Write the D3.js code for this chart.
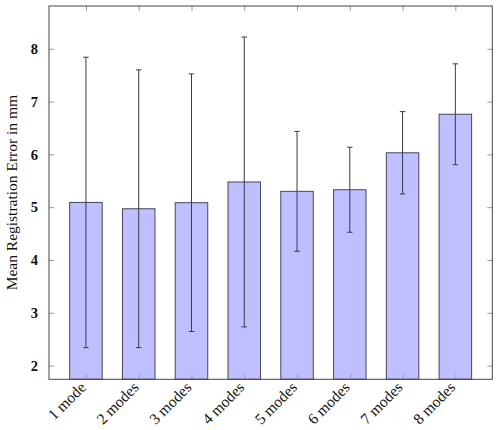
<!DOCTYPE html>
<html>
<head>
<meta charset="utf-8">
<script src="https://cdn.jsdelivr.net/npm/d3@7"></script>
<style>
  body { margin: 0; background: #fff; }
</style>
</head>
<body>
<div id="chart"></div>
<script>
// data
var categories = ["1 mode", "2 modes", "3 modes", "4 modes", "5 modes", "6 modes", "7 modes", "8 modes"];
var meanError = [5.09, 4.97, 5.085, 5.477, 5.30, 5.33, 6.03, 6.76];
var stdError = [2.75, 2.63, 2.44, 2.745, 1.135, 0.805, 0.78, 0.955];
var yTicks = [2, 3, 4, 5, 6, 7, 8];

var serif = "'Liberation Serif', 'DejaVu Serif', serif";

var svgWidth = 501;
var svgHeight = 430;

var margin = { top: 6, right: 9, bottom: 51, left: 49 };
var width = 492.3 - margin.left;
var height = 379.3 - margin.top;

var svg = d3.select("#chart")
  .append("svg")
  .attr("width", svgWidth)
  .attr("height", svgHeight);

var chartGroup = svg.append("g")
  .attr("transform", `translate(${margin.left}, ${margin.top})`);

var rows = categories.map(function(c, i) {
  return { name: c, idx: i + 1, mean: meanError[i], err: stdError[i] };
});

var xScale = d3.scaleLinear()
  .domain([0.3, 8.7])
  .range([0, width]);

var yScale = d3.scaleLinear()
  .domain([1.74, 8.81])
  .range([height, 0]);

var barWidth = 32.5;
var capHalf = 2.7;

// bars
chartGroup.selectAll(".bar")
  .data(rows)
  .enter()
  .append("rect")
  .attr("class", "bar")
  .attr("x", d => xScale(d.idx) - barWidth / 2)
  .attr("y", d => yScale(d.mean))
  .attr("width", barWidth)
  .attr("height", d => height - yScale(d.mean))
  .attr("fill", "#bfbfff")
  .attr("stroke", "#46465e")
  .attr("stroke-width", 1);

// error bars
var errGroup = chartGroup.selectAll(".err")
  .data(rows)
  .enter()
  .append("g")
  .attr("class", "err")
  .attr("stroke", "#3a3a48")
  .attr("stroke-width", 1);

errGroup.append("line")
  .attr("x1", d => xScale(d.idx))
  .attr("x2", d => xScale(d.idx))
  .attr("y1", d => yScale(d.mean - d.err))
  .attr("y2", d => yScale(d.mean + d.err));

errGroup.append("line")
  .attr("x1", d => xScale(d.idx) - capHalf)
  .attr("x2", d => xScale(d.idx) + capHalf)
  .attr("y1", d => yScale(d.mean + d.err))
  .attr("y2", d => yScale(d.mean + d.err));

errGroup.append("line")
  .attr("x1", d => xScale(d.idx) - capHalf)
  .attr("x2", d => xScale(d.idx) + capHalf)
  .attr("y1", d => yScale(d.mean - d.err))
  .attr("y2", d => yScale(d.mean - d.err));

// axes: ticks pointing inward, on every side
var leftAxis = d3.axisLeft(yScale).tickValues(yTicks).tickSize(-5).tickPadding(11).tickFormat(d3.format("d"));
var rightAxis = d3.axisRight(yScale).tickValues(yTicks).tickSize(-5).tickFormat("");
var topAxis = d3.axisTop(xScale).tickValues(d3.range(1, 9)).tickSize(-5).tickFormat("");
var bottomAxis = d3.axisBottom(xScale).tickValues(d3.range(1, 9)).tickSize(-5).tickFormat("");

var yAxis = chartGroup.append("g").call(leftAxis);
chartGroup.append("g").attr("transform", `translate(${width}, 0)`).call(rightAxis);
chartGroup.append("g").call(topAxis);
chartGroup.append("g").attr("transform", `translate(0, ${height})`).call(bottomAxis);

chartGroup.selectAll(".domain").remove();
chartGroup.selectAll(".tick line").attr("stroke", "#9a9a9a");

yAxis.attr("font-family", serif);
yAxis.selectAll("text")
  .attr("font-size", "14.5px")
  .attr("font-weight", "bold")
  .attr("fill", "#111");

// frame
chartGroup.append("rect")
  .attr("width", width)
  .attr("height", height)
  .attr("fill", "none")
  .attr("stroke", "#444")
  .attr("stroke-width", 1);

// category labels, rotated
chartGroup.selectAll(".xlabel")
  .data(rows)
  .enter()
  .append("text")
  .attr("class", "xlabel")
  .attr("transform", d => `translate(${xScale(d.idx) + 1}, ${height + 9}) rotate(-45)`)
  .attr("text-anchor", "end")
  .attr("font-family", serif)
  .attr("font-size", "15.5px")
  .attr("fill", "#111")
  .text(d => d.name);

// y title
svg.append("text")
  .attr("transform", "rotate(-90)")
  .attr("x", -(margin.top + height / 2))
  .attr("y", 17)
  .attr("text-anchor", "middle")
  .attr("font-family", serif)
  .attr("font-size", "15.5px")
  .attr("fill", "#111")
  .text("Mean Registration Error in mm");
</script>
</body>
</html>
